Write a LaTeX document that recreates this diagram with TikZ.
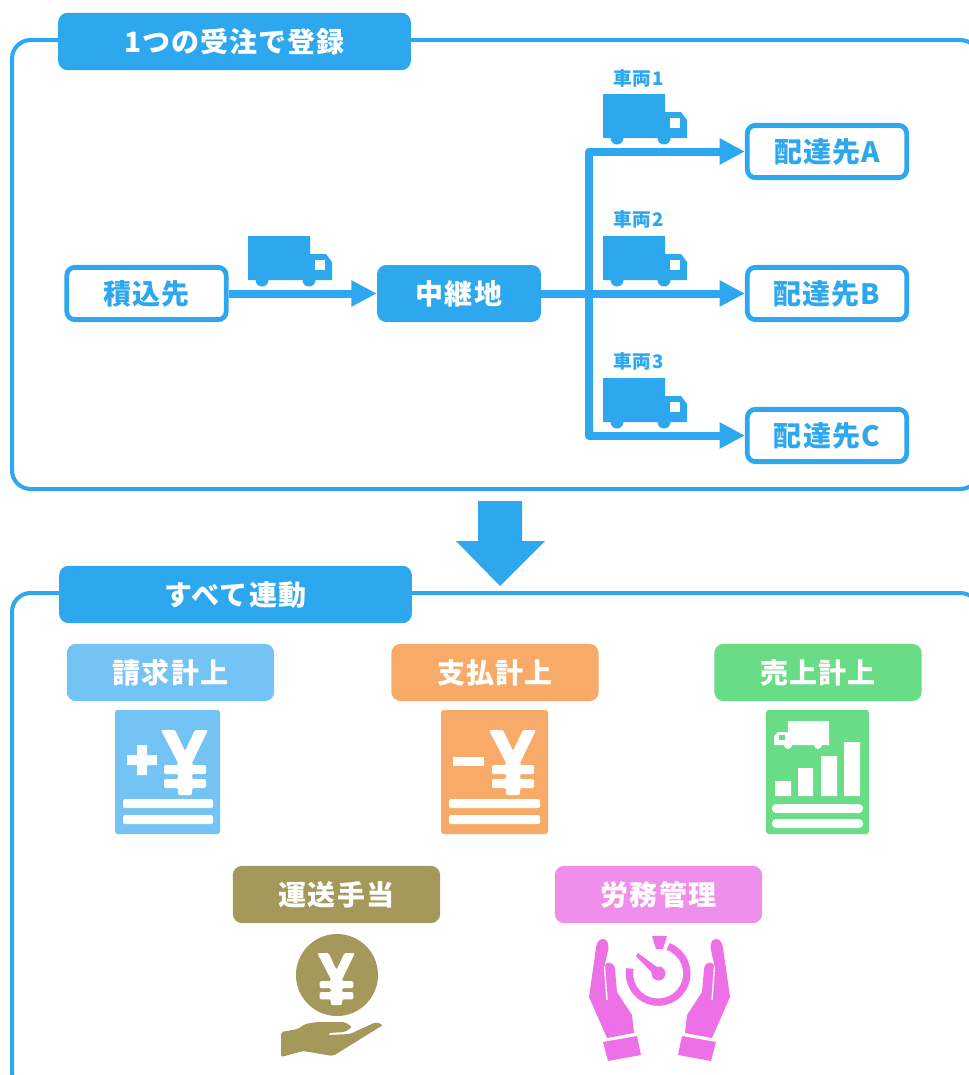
\documentclass[tikz,border=0pt]{standalone}
\usepackage{fontspec}
\setmainfont{Noto Sans CJK JP}[LetterSpace=4]
\usetikzlibrary{arrows.meta}
\definecolor{mainblue}{HTML}{2DA7EE}
\definecolor{skyblue}{HTML}{73C3F5}
\definecolor{paleorange}{HTML}{F8AB68}
\definecolor{palegreen}{HTML}{68DD85}
\definecolor{olive}{HTML}{A5985B}
\definecolor{palepink}{HTML}{F08EEB}
\definecolor{handpink}{HTML}{EE70E6}
\tikzset{
  frame/.style={draw=mainblue,line width=3pt,rounded corners=14pt},
  header/.style={fill=mainblue,text=white,rounded corners=7pt,minimum width=264.5pt,minimum height=43pt,font=\bfseries\fontsize{21}{25}\selectfont},
  place/.style={draw=mainblue,fill=white,text=mainblue,line width=3.6pt,rounded corners=6pt,minimum width=119.5pt,minimum height=39.2pt,font=\bfseries\fontsize{21}{25}\selectfont},
  hub/.style={fill=mainblue,text=white,rounded corners=7pt,minimum width=123pt,minimum height=42.75pt,font=\bfseries\fontsize{21}{25}\selectfont},
  tag/.style={text=white,rounded corners=7pt,minimum width=155.5pt,minimum height=43pt,font=\bfseries\fontsize{21}{25}\selectfont},
  vehicle/.style={text=mainblue,inner sep=0pt,font=\bfseries\fontsize{14}{16}\selectfont},
  flow/.style={draw=mainblue,line width=6pt,line join=round,-{Triangle[length=19pt,width=18.5pt]}},
}
% truck facing right, #1 = top left corner of the body
\newcommand{\truckicon}[1]{
  \begin{scope}[shift={#1}]
    \fill[mainblue] (0,0) -- (62,0) -- (62,18) -- (78,18) -- (84,26) -- (84,44) -- (0,44) -- cycle;
    \fill[mainblue] (14,44) circle (6.5) (61,44) circle (6.5);
    \fill[white] (67,24) rectangle (77,34);
  \end{scope}
}
% white yen sign, #2 = centre of the stem at the top of the bars
\newcommand{\yensign}[2][1]{
  \begin{scope}[shift={#2},scale=#1]
    \fill[white,rounded corners=1pt] (-24,-35) -- (-10,-35) -- (0,-14) -- (10,-35) -- (23,-35) -- (7,-2) -- (7,0) -- (21,0) -- (21,9) -- (7,9) -- (7,14) -- (21,14) -- (21,23) -- (7,23) -- (7,30) -- (-7,30) -- (-7,23) -- (-21,23) -- (-21,14) -- (-7,14) -- (-7,9) -- (-21,9) -- (-21,0) -- (-7,0) -- (-7,-2) -- cycle;
  \end{scope}
}
% one hand of the stopwatch icon
\newcommand{\handicon}{
  \fill[handpink] (596,948) .. controls (597,936) and (609,936) .. (608.5,948) -- (604.5,966) .. controls (606,961) and (614,961) .. (615,969) -- (617,992) -- (632,1015) -- (634,1033) -- (607,1038) -- (589,997) -- cycle;
  \draw[white,line width=1pt] (604.5,966) -- (607,1000);
  \fill[handpink] (603,1042) -- (637,1036) -- (641,1055) -- (608,1061) -- cycle;
}
\begin{document}
\begin{tikzpicture}[x=0.75pt,y=-0.75pt]
  \useasboundingbox (0,0) rectangle (969,1075);
  \clip (0,0) rectangle (969,1075);
  % frames
  \draw[frame] (12,40) rectangle (979,489);
  \draw[frame] (12,593) rectangle (979,1091);
  \node[header] (orderhead) at (234.5,41.5) {1つの受注で登録};
  \node[header] (linkhead) at (235.5,594.5) {すべて連動};
  % route
  \node[place] (pickup) at (146.5,293.5) {積込先};
  \node[hub] (relay) at (459,293.5) {中継地};
  \node[place] (destA) at (827,151.5) {配達先A};
  \node[place] (destB) at (827,293.5) {配達先B};
  \node[place] (destC) at (827,435.5) {配達先C};
  \coordinate (fork) at (589,293.5);
  \draw[flow] (pickup) -- (relay);
  \draw[flow] (relay) -- (destB);
  \draw[flow] (fork) |- (destA);
  \draw[flow] (fork) |- (destC);
  \truckicon{(248,236)}
  \truckicon{(603,94)}
  \truckicon{(603,236)}
  \truckicon{(603,378)}
  \node[vehicle] (truckone) at (638.5,78) {車両1};
  \node[vehicle] (trucktwo) at (638.5,219) {車両2};
  \node[vehicle] (truckthree) at (638.5,361) {車両3};
  % big arrow
  \fill[mainblue] (478,501) -- (522,501) -- (522,541) -- (545,541) -- (500,586) -- (456,541) -- (478,541) -- cycle;
  % tags
  \node[tag,fill=skyblue] (billing) at (170.5,672.5) {請求計上};
  \node[tag,fill=paleorange] (payment) at (495,672.5) {支払計上};
  \node[tag,fill=palegreen] (sales) at (818,672.5) {売上計上};
  \node[tag,fill=olive] (allowance) at (336.5,894.5) {運送手当};
  \node[tag,fill=palepink] (labor) at (658.5,894.5) {労務管理};
  % billing icon
  \fill[skyblue,rounded corners=2pt] (115,710) rectangle (220,834);
  \yensign{(185,765)}
  \fill[white] (127,755) rectangle (157,765) (137,745) rectangle (147,775);
  \fill[white,rounded corners=1.5pt] (123,799) rectangle (213,808) (123,815) rectangle (213,824);
  % payment icon
  \fill[paleorange,rounded corners=2pt] (441,710) rectangle (548,834);
  \yensign{(513,765)}
  \fill[white] (453,757) rectangle (484,766);
  \fill[white,rounded corners=1.5pt] (449,799) rectangle (540,808) (449,815) rectangle (540,824);
  % sales icon
  \fill[palegreen,rounded corners=2pt] (766,710) rectangle (869,834);
  \fill[white] (788,721) -- (829,721) -- (829,745) -- (774,745) -- (774,736) -- (778,732) -- (788,732) -- cycle;
  \fill[white] (788,745) circle (4) (818,745) circle (4);
  \fill[palegreen] (779,735) rectangle (785,740);
  \fill[white] (775,781) rectangle (791,796) (798,768) rectangle (813,796) (821,756) rectangle (837,796) (844,742) rectangle (860,796);
  \fill[white,rounded corners=3pt] (772,804) rectangle (863,813) (772,819) rectangle (863,828);
  % allowance icon
  \fill[olive] (337,975) circle (41);
  \yensign[0.8]{(336.5,981)}
  \fill[olive,rounded corners=1.5pt] (281,1032) -- (298,1029) -- (305,1024) -- (317,1022) -- (345,1022) -- (352,1027) -- (345,1032) -- (328,1033) -- (328,1035) -- (350,1034) -- (376,1022) -- (383,1025) -- (333,1056) -- (303,1051) -- (281,1057) -- cycle;
  % labor icon
  \handicon
  \begin{scope}[shift={(1319,0)},xscale=-1]
    \handicon
  \end{scope}
  \fill[handpink] (652,936) -- (667,936) -- (663,949) -- (656,949) -- cycle;
  \fill[handpink] (658.5,973.5) circle (7);
  \fill[handpink] (636,956) -- (638,953) -- (661,970) -- (656,977) -- cycle;
  \draw[handpink,line width=5.5pt] (668,946.5) arc (-70:190:28.7);
\end{tikzpicture}
\end{document}
